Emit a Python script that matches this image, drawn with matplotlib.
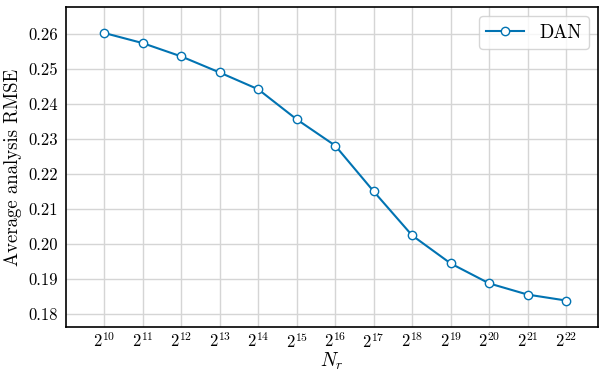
import numpy as np
import matplotlib
matplotlib.use("Agg")
import matplotlib.pyplot as plt

plt.rcParams['font.family'] = 'serif'
plt.rcParams['font.serif'] = ['cmr10', 'DejaVu Serif']
plt.rcParams['mathtext.fontset'] = 'cm'
plt.rcParams['axes.unicode_minus'] = False
plt.rcParams['axes.formatter.use_mathtext'] = True

# exposants de N_r et RMSE moyen
exponents = [10, 11, 12, 13, 14, 15, 16, 17, 18, 19, 20, 21, 22]
rmse = [0.2602, 0.2573, 0.2535, 0.2489, 0.2441, 0.2355, 0.2280,
        0.2149, 0.2023, 0.1943, 0.1886, 0.1854, 0.1837]
yticks = [0.18, 0.19, 0.20, 0.21, 0.22, 0.23, 0.24, 0.25, 0.26]

fig, ax = plt.subplots(figsize=(6, 3.73), dpi=100)
fig.subplots_adjust(left=0.11, right=0.997, top=0.982, bottom=0.122)

x = np.arange(len(exponents))
ax.plot(x, rmse, color='#0173b2', lw=1.5, marker='o', ms=6,
        mfc='white', mec='#0173b2', mew=1.0, label='DAN')

ax.set_xticks(x)
ax.set_xticklabels([r'$2^{%d}$' % e for e in exponents])
ax.set_yticks(yticks)
ax.set_yticklabels(['%.2f' % v for v in yticks])
ax.set_xlim(-0.99, 12.83)
ax.set_ylim(0.176, 0.2677)

ax.grid(True, color='#d5d5d5', lw=1.0)
ax.set_axisbelow(True)
ax.tick_params(length=0, labelsize=12)
ax.tick_params(axis='x', pad=3)
ax.tick_params(axis='y', pad=6)
for s in ax.spines.values():
    s.set_color('black')
    s.set_linewidth(1.2)

ax.set_xlabel(r'$N_r$', fontsize=14, labelpad=0)
ax.set_ylabel('Average analysis RMSE', fontsize=13.5, labelpad=4)
ax.legend(loc='upper right', fontsize=13.5, frameon=True, edgecolor='#cccccc',
          fancybox=True, handlelength=2.0)

fig.savefig('out.png', dpi=100)
